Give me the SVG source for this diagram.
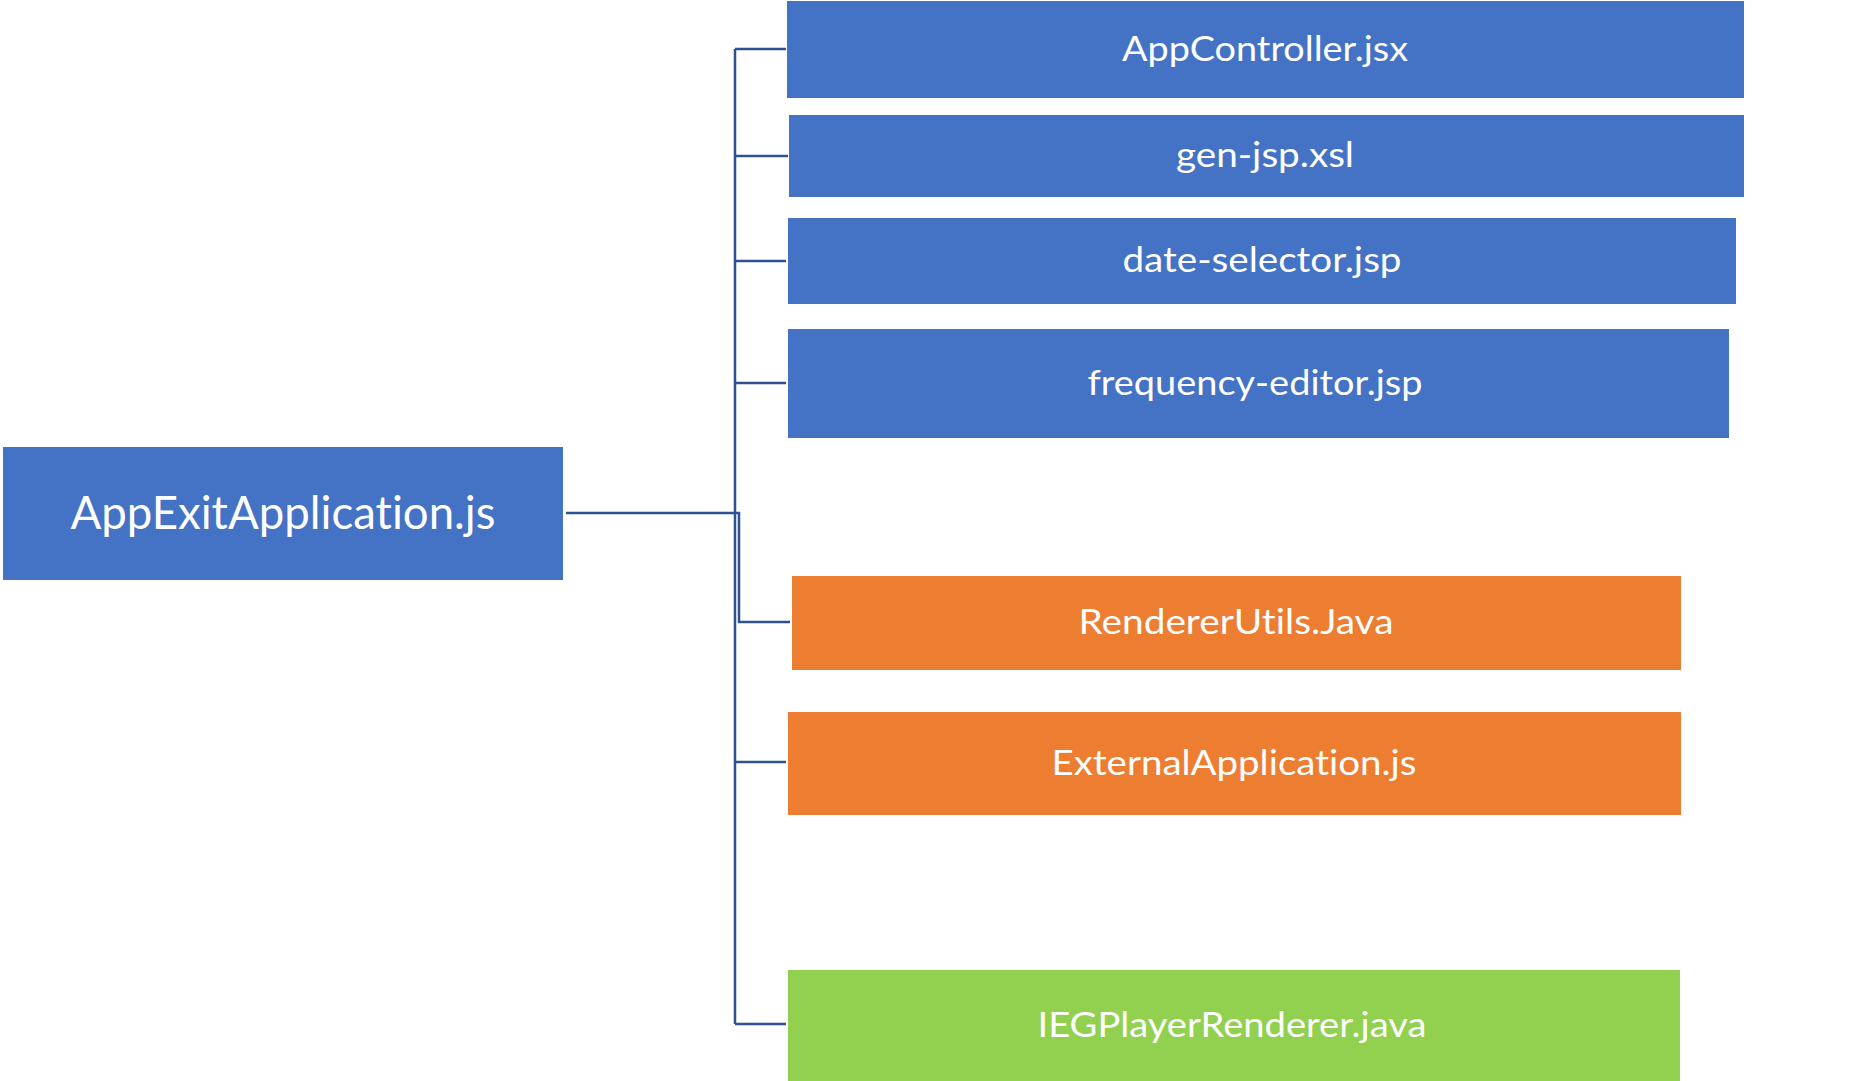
<svg xmlns="http://www.w3.org/2000/svg" width="1862" height="1081" viewBox="0 0 1862 1081">
<style>
.blue{fill:#4472C4}
.orange{fill:#ED7D31}
.green{fill:#92D050}
.lbl{font-family:Lato,"Open Sans","Liberation Sans",sans-serif;fill:#FFFFFF;font-size:34px;text-anchor:middle;font-variant-ligatures:none}
.main{font-size:46px}
.conn{fill:none;stroke:#2F528F;stroke-width:2.5}
</style>
<rect width="1862" height="1081" fill="#FFFFFF"/>
<g id="connectors">
<path class="conn" d="M735,49 V1024"/>
<path class="conn" d="M735,49 H786"/>
<path class="conn" d="M735,156 H788"/>
<path class="conn" d="M735,261 H786"/>
<path class="conn" d="M735,383 H786"/>
<path class="conn" d="M735,762 H786"/>
<path class="conn" d="M735,1024 H786"/>
<path class="conn" d="M566,513 H739 V622 H790"/>
</g>
<g id="node-main">
<rect class="blue" x="3" y="447" width="560" height="133"/>
<text class="lbl main" x="283" y="529" textLength="425" lengthAdjust="spacingAndGlyphs">AppExitApplication.js</text>
</g>
<g id="node-appcontroller">
<rect class="blue" x="787" y="1" width="957" height="97"/>
<text class="lbl" x="1265" y="61" textLength="286" lengthAdjust="spacingAndGlyphs">AppController.jsx</text>
</g>
<g id="node-genjsp">
<rect class="blue" x="789" y="115" width="955" height="82"/>
<text class="lbl" x="1265" y="167" textLength="178" lengthAdjust="spacingAndGlyphs">gen-jsp.xsl</text>
</g>
<g id="node-dateselector">
<rect class="blue" x="788" y="218" width="948" height="86"/>
<text class="lbl" x="1262" y="272" textLength="279" lengthAdjust="spacingAndGlyphs">date-selector.jsp</text>
</g>
<g id="node-frequencyeditor">
<rect class="blue" x="788" y="329" width="941" height="109"/>
<text class="lbl" x="1255" y="395" textLength="335" lengthAdjust="spacingAndGlyphs">frequency-editor.jsp</text>
</g>
<g id="node-rendererutils">
<rect class="orange" x="792" y="576" width="889" height="94"/>
<text class="lbl" x="1236" y="634" textLength="315" lengthAdjust="spacingAndGlyphs">RendererUtils.Java</text>
</g>
<g id="node-externalapplication">
<rect class="orange" x="788" y="712" width="893" height="103"/>
<text class="lbl" x="1234" y="775" textLength="365" lengthAdjust="spacingAndGlyphs">ExternalApplication.js</text>
</g>
<g id="node-iegplayerrenderer">
<rect class="green" x="788" y="970" width="892" height="111"/>
<text class="lbl" x="1232" y="1037" textLength="389" lengthAdjust="spacingAndGlyphs">IEGPlayerRenderer.java</text>
</g>
</svg>
